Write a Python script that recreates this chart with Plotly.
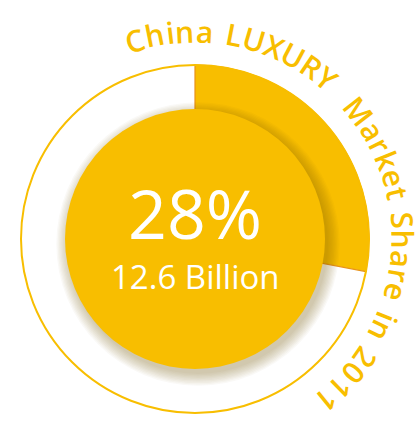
import math
import plotly.graph_objects as go

# ---- data ----
labels = ["China", "Rest of world"]
shares = [28, 72]
value_billion = 12.6
title_text = "China LUXURY  Market Share in 2011"

# ---- layout constants ----
W, H = 417, 421
CX, CY = 195, 239          # centre in pixels
R_OUT = 174
R_IN = 130
YELLOW = "#F8BE00"
EDGE = "#E8921A"
FONT = "Open Sans"

def px(x):
    return x / W

def py(y):
    return 1 - y / H

fig = go.Figure()

fig.add_trace(go.Pie(
    labels=labels,
    values=shares,
    sort=False,
    direction="clockwise",
    rotation=0,
    marker=dict(colors=[YELLOW, "rgba(0,0,0,0)"],
                line=dict(color=[EDGE, "rgba(0,0,0,0)"], width=1.2)),
    textinfo="none",
    hoverinfo="skip",
    showlegend=False,
    domain=dict(x=[px(CX - R_OUT), px(CX + R_OUT)],
                y=[py(CY + R_OUT), py(CY - R_OUT)]),
))

shapes = []
# soft drop shadow for the inner disc
for k in range(10):
    r = R_IN + k * 1.3
    ox, oy = 3, 5
    shapes.append(dict(type="circle", xref="paper", yref="paper", layer="above",
                       x0=px(CX + ox - r), x1=px(CX + ox + r),
                       y0=py(CY + oy + r), y1=py(CY + oy - r),
                       fillcolor="rgba(110,80,0,0.035)", line=dict(width=0)))
# inner disc
shapes.append(dict(type="circle", xref="paper", yref="paper", layer="above",
                   x0=px(CX - R_IN), x1=px(CX + R_IN),
                   y0=py(CY + R_IN), y1=py(CY - R_IN),
                   fillcolor=YELLOW, line=dict(width=0)))
# outer ring
shapes.append(dict(type="circle", xref="paper", yref="paper", layer="above",
                   x0=px(CX - R_OUT), x1=px(CX + R_OUT),
                   y0=py(CY + R_OUT), y1=py(CY - R_OUT),
                   fillcolor="rgba(0,0,0,0)", line=dict(color=YELLOW, width=2)))

annotations = [
    dict(text=f"{shares[0]}%", x=px(CX), y=py(212), xref="paper", yref="paper",
         xanchor="center", yanchor="middle", showarrow=False,
         font=dict(family=FONT, size=68, color="white")),
    dict(text=f"{value_billion} Billion", x=px(CX), y=py(276), xref="paper", yref="paper",
         xanchor="center", yanchor="middle", showarrow=False,
         font=dict(family=FONT, size=33, color="white")),
]

# curved title along the circle
widths = {'C': 0.63, 'h': 0.61, 'i': 0.26, 'n': 0.61, 'a': 0.56, ' ': 0.30,
          'L': 0.52, 'U': 0.67, 'X': 0.58, 'R': 0.59, 'Y': 0.55, 'M': 0.86,
          'r': 0.41, 'k': 0.52, 'e': 0.56, 't': 0.36, 'S': 0.54,
          '2': 0.57, '0': 0.57, '1': 0.57}
F_TITLE = 30
LS = 2.0
R_TEXT = 208
A0, A1 = -17.0, 141.0
pos = []
acc = 0.0
for ch in title_text:
    w = widths.get(ch, 0.55) * F_TITLE
    pos.append(acc + w / 2)
    acc += w + LS
p0, p1 = pos[0], pos[-1]
for ch, p in zip(title_text, pos):
    if ch == " ":
        continue
    ang = A0 + (p - p0) / (p1 - p0) * (A1 - A0)
    t = math.radians(ang)
    x = CX + R_TEXT * math.sin(t)
    y = CY - R_TEXT * math.cos(t)
    annotations.append(dict(text=ch, x=px(x), y=py(y), xref="paper", yref="paper",
                            xanchor="center", yanchor="middle", showarrow=False,
                            textangle=ang,
                            font=dict(family=FONT, size=F_TITLE, color=YELLOW,
                                      weight=600)))

fig.update_layout(
    width=W, height=H,
    margin=dict(l=0, r=0, t=0, b=0),
    paper_bgcolor="white", plot_bgcolor="white",
    shapes=shapes, annotations=annotations,
    showlegend=False,
)

fig.write_html("out.html", config={"displayModeBar": False},
               post_script="document.body.style.margin='0';")
